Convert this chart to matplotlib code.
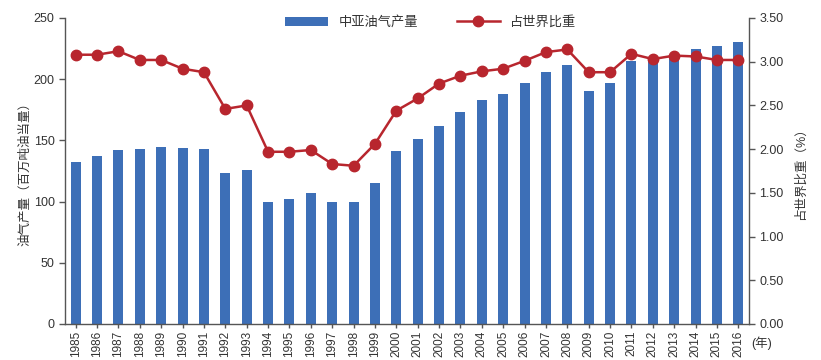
import matplotlib
matplotlib.use("Agg")
import matplotlib.pyplot as plt
import numpy as np

plt.rcParams['font.family'] = ['Liberation Sans', 'Noto Sans CJK SC', 'DejaVu Sans']

years = [str(y) for y in range(1985, 2017)]
production = [132, 137, 142, 143, 145, 144, 143, 123, 126, 100, 102, 107, 100, 100, 115,
              141, 151, 162, 173, 183, 188, 197, 206, 212, 190, 197, 215, 217, 220, 225, 227, 230]
share = [3.08, 3.08, 3.12, 3.02, 3.02, 2.92, 2.88, 2.46, 2.50, 1.97, 1.97, 1.99, 1.83, 1.81, 2.06,
         2.44, 2.58, 2.75, 2.84, 2.89, 2.92, 3.01, 3.11, 3.14, 2.88, 2.88, 3.09, 3.03, 3.07, 3.06, 3.02, 3.02]
left_ticks = [0, 50, 100, 150, 200, 250]
right_ticks = [0.0, 0.5, 1.0, 1.5, 2.0, 2.5, 3.0, 3.5]

bar_color = '#3d6fb7'
line_color = '#b8262e'
text_color = '#333333'
spine_color = '#555555'

fig = plt.figure(figsize=(8.21, 3.60), dpi=100)
ax = fig.add_axes([65/821, 36/360, (749-65)/821, (324-18)/360])
ax2 = ax.twinx()

x = np.arange(len(years))
b = ax.bar(x, production, width=0.47, color=bar_color, label='中亚油气产量', zorder=2)
l, = ax2.plot(x, share, color=line_color, lw=1.8, marker='o', markersize=7.5,
              label='占世界比重', zorder=3)

ax.set_xlim(-0.5, len(years) - 0.5)
ax.set_ylim(0, 250)
ax2.set_ylim(0, 3.5)
ax.set_yticks(left_ticks)
ax.set_yticklabels([str(t) for t in left_ticks])
ax2.set_yticks(right_ticks)
ax2.set_yticklabels([f'{t:.2f}' for t in right_ticks])
ax.set_xticks(x)
ax.set_xticklabels(years, rotation=90)

for a in (ax, ax2):
    a.spines['top'].set_visible(False)
    for s in ('left', 'right', 'bottom'):
        a.spines[s].set_color(spine_color)
        a.spines[s].set_linewidth(1.0)
    a.tick_params(colors=spine_color, labelcolor=text_color, labelsize=9, length=4, width=1)
ax.tick_params(axis='x', labelsize=8.5, length=3, pad=2)
ax.spines['right'].set_visible(False)
ax2.spines['left'].set_visible(False)
ax2.spines['bottom'].set_visible(False)

ax.set_ylabel('油气产量（百万吨油当量）', fontsize=9, color=text_color, labelpad=2)
ax2.set_ylabel('占世界比重（%）', fontsize=9, color=text_color, rotation=90, labelpad=8)

ax.text(len(years) - 0.4, -10, '(年)', fontsize=9, color=text_color, ha='left', va='top')

ax2.legend([b, l], ['中亚油气产量', '占世界比重'], loc='upper center', bbox_to_anchor=(0.535, 1.045),
           ncol=2, frameon=False, fontsize=9.5, handlelength=3.2, columnspacing=3.0,
           labelcolor=text_color)

fig.savefig('out.png', dpi=100)
